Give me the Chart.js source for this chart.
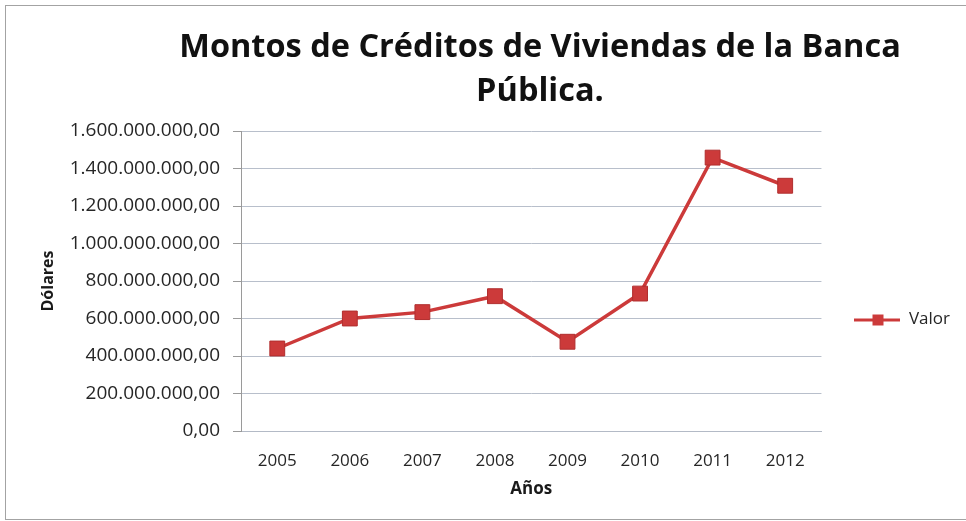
<!DOCTYPE html>
<html lang="es">
<head>
<meta charset="utf-8">
<title>Montos de Créditos de Viviendas de la Banca Pública</title>
<script src="https://cdn.jsdelivr.net/npm/chart.js@4.4.1/dist/chart.umd.min.js"></script>
<style>
  html, body { margin: 0; padding: 0; background: #fff; overflow: hidden; }
  #marco { position: relative; width: 966px; height: 521px; }
  #grafico { position: absolute; left: 0; top: 0; }
  #borde {
    position: absolute; left: 5px; top: 5px; width: 980px; height: 513px;
    border: 1px solid #a3a3a3; pointer-events: none;
  }
</style>
</head>
<body>
<div id="marco">
  <canvas id="grafico" width="966" height="521"></canvas>
  <div id="borde"></div>
</div>
<script>
// Años y montos (en dólares) de los créditos de vivienda
var anios = ['2005', '2006', '2007', '2008', '2009', '2010', '2011', '2012'];
var montos = [440000000, 600000000, 634000000, 719000000, 476000000, 733000000, 1458000000, 1308000000];
var serie = 'Valor';

var rojo = '#cc3a3a';
var rojoBorde = '#b12e2e';
var fuente = 'Open Sans';
var texto = '#262626';

// 1600000000 -> "1.600.000.000,00"
function formatoMonto(v) {
    var entero = Math.round(v).toString().replace(/\B(?=(\d{3})+(?!\d))/g, '.');
    return entero + ',00';
}

// muestra de leyenda: línea con el cuadrado en medio
function muestraLeyenda() {
    var c = document.createElement('canvas');
    c.width = 46;
    c.height = 14;
    var g = c.getContext('2d');
    g.fillStyle = rojo;
    g.fillRect(0, 6, 46, 3);
    g.fillRect(18, 2, 11, 11);
    return c;
}

// corre la leyenda hacia abajo y el título a la derecha
var ajusteCajas = {
    id: 'ajusteCajas',
    afterLayout: function (chart) {
        if (chart.legend) {
            chart.legend.top += 59;
            chart.legend.bottom += 59;
        }
        if (chart.titleBlock) {
            chart.titleBlock.left += 45;
            chart.titleBlock.right += 45;
        }
    }
};

var ctx = document.getElementById('grafico').getContext('2d');
var grafico = new Chart(ctx, {
    type: 'line',
    data: {
        labels: anios,
        datasets: [{
            label: serie,
            data: montos,
            borderColor: rojo,
            backgroundColor: rojo,
            borderWidth: 3.5,
            tension: 0,
            pointStyle: 'rect',
            pointRadius: 10.5,
            pointHoverRadius: 10.5,
            pointBackgroundColor: rojo,
            pointBorderColor: rojoBorde,
            pointBorderWidth: 1
        }]
    },
    options: {
        responsive: false,
        animation: false,
        devicePixelRatio: 1,
        layout: {
            padding: { left: 30, right: 6, top: 0, bottom: 0 }
        },
        scales: {
            x: {
                offset: true,
                grid: { display: false },
                border: { display: true, color: '#b3bac6', width: 1 },
                ticks: {
                    color: texto,
                    padding: 12,
                    font: { family: fuente, size: 17 }
                },
                title: {
                    display: true,
                    text: 'Años',
                    color: '#1a1a1a',
                    padding: { top: 0, bottom: 22 },
                    font: { family: fuente, size: 17, weight: 'bold' }
                },
                afterFit: function (scale) {
                    scale.height = 90;
                }
            },
            y: {
                min: 0,
                max: 1600000000,
                grid: {
                    color: '#b8bfcb',
                    tickColor: '#9a9a9a',
                    tickLength: 8,
                    drawTicks: true
                },
                border: { display: true, color: '#9a9a9a', width: 1 },
                ticks: {
                    stepSize: 200000000,
                    color: texto,
                    padding: 13,
                    font: { family: fuente, size: 19 },
                    callback: function (v) { return formatoMonto(v); }
                },
                title: {
                    display: true,
                    text: 'Dólares',
                    color: '#1a1a1a',
                    padding: { top: 9, bottom: 0 },
                    font: { family: fuente, size: 16, weight: 'bold' }
                },
                afterFit: function (scale) {
                    scale.width = 211;
                }
            }
        },
        plugins: {
            title: {
                display: true,
                text: ['Montos de Créditos de Viviendas de la Banca', 'Pública.'],
                color: '#111',
                padding: { top: 26, bottom: 17 },
                font: { family: fuente, size: 32.5, weight: 'bold', lineHeight: '44px' }
            },
            legend: {
                display: true,
                position: 'right',
                labels: {
                    usePointStyle: true,
                    pointStyleWidth: 46,
                    padding: 33,
                    color: texto,
                    font: { family: fuente, size: 17 },
                    generateLabels: function (chart) {
                        var items = Chart.defaults.plugins.legend.labels.generateLabels(chart);
                        items.forEach(function (it) { it.pointStyle = muestraLeyenda(); });
                        return items;
                    }
                }
            },
            tooltip: { enabled: false }
        }
    },
    plugins: [ajusteCajas]
});
</script>
</body>
</html>
